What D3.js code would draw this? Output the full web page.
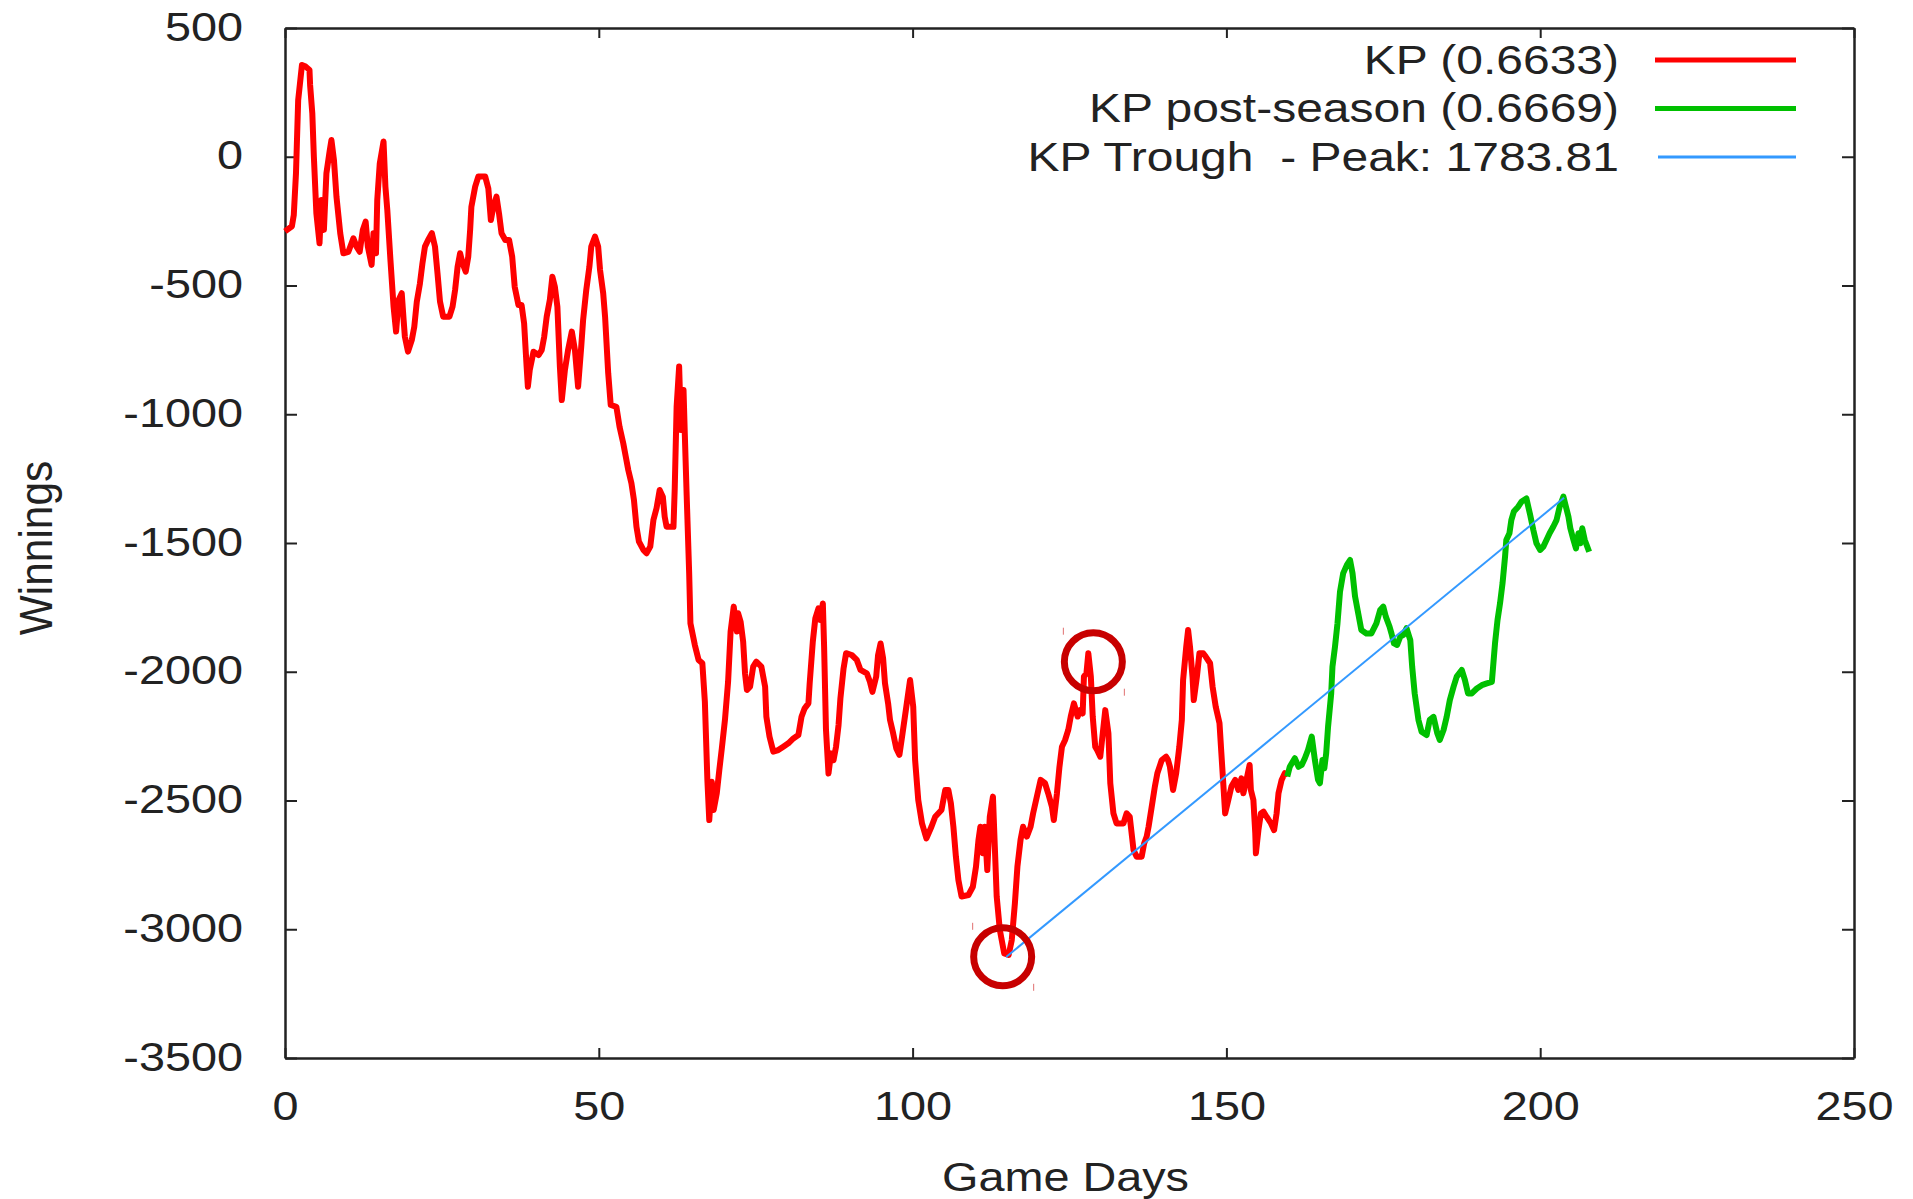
<!DOCTYPE html>
<html>
<head>
<meta charset="utf-8">
<script src="https://d3js.org/d3.v7.min.js"></script>
<style>
  body { margin: 0; background: #fff; }
  text { font-family: "Liberation Sans", Arial, sans-serif; fill: #222; white-space: pre; }
</style>
</head>
<body>
<svg id="vis"></svg>
<script>
  // regular season, [game day, winnings]
  var kpSeason = [
    [0,-290],[1.1,-270],[1.4,-226],[1.75,-64],[2.1,220],[2.7,356],[3.3,350],[3.9,337],[4,279],[4.35,169],
    [4.6,0],[5,-220],[5.5,-336],[5.8,-168],[6.2,-284],[6.6,-64],[7.1,20],[7.4,65],[7.8,-13],[8.2,-155],
    [8.8,-297],[9.3,-375],[10.1,-369],[10.9,-317],[11.4,-349],[11.9,-369],[12.4,-284],[12.85,-252],[13.2,-349],[13.8,-420],
    [14.1,-297],[14.5,-375],[14.7,-168],[15.1,-26],[15.7,59],[16,-116],[16.3,-207],[16.8,-401],[17.3,-582],[17.7,-679],
    [18.1,-556],[18.6,-530],[18.9,-634],[19.1,-699],[19.6,-757],[20.2,-712],[20.6,-660],[21,-563],[21.5,-492],[21.9,-414],
    [22.3,-349],[22.8,-323],[23.4,-297],[23.9,-349],[24.3,-453],[24.7,-563],[25.2,-621],[26.2,-621],[26.7,-582],[27.1,-518],
    [27.5,-427],[27.9,-375],[28.3,-414],[28.8,-446],[29.2,-388],[29.5,-284],[29.7,-194],[30.3,-116],[30.8,-77],[31.9,-77],
    [32.4,-123],[32.8,-246],[33.2,-194],[33.7,-155],[34.1,-220],[34.5,-297],[35.1,-323],[35.7,-323],[36.2,-388],[36.6,-505],
    [37.2,-576],[37.7,-576],[38.1,-647],[38.5,-815],[38.7,-893],[39,-828],[39.6,-757],[40.4,-770],[40.9,-751],[41.3,-699],
    [41.7,-621],[42.2,-556],[42.6,-466],[43,-505],[43.4,-582],[43.8,-815],[44.1,-945],[44.6,-828],[45.1,-751],[45.7,-679],
    [46.2,-751],[46.7,-893],[47.2,-738],[47.5,-634],[48,-518],[48.5,-427],[48.8,-349],[49.4,-310],[49.9,-349],[50.2,-440],
    [50.7,-530],[51,-621],[51.5,-841],[51.9,-964],[52.8,-971],[53.3,-1048],[53.9,-1113],[54.3,-1165],[54.7,-1217],[55.2,-1268],
    [55.6,-1333],[56,-1437],[56.4,-1495],[57.1,-1527],[57.6,-1540],[58.2,-1514],[58.7,-1411],[59.2,-1365],[59.7,-1294],[60.2,-1320],
    [60.5,-1398],[60.8,-1437],[61.9,-1437],[62.1,-1288],[62.4,-971],[62.8,-815],[63.1,-1061],[63.5,-906],[63.7,-1074],[64,-1314],
    [64.4,-1618],[64.6,-1812],[65.3,-1896],[65.9,-1954],[66.5,-1967],[66.9,-2116],[67.3,-2420],[67.6,-2576],[68,-2427],[68.3,-2537],
    [68.8,-2472],[69.2,-2382],[69.6,-2298],[70.1,-2187],[70.6,-2039],[71,-1844],[71.5,-1747],[72,-1844],[72.2,-1773],[72.6,-1806],
    [73,-1883],[73.3,-2006],[73.6,-2071],[74.1,-2058],[74.6,-1980],[75.1,-1961],[75.9,-1980],[76.5,-2058],[76.7,-2175],[77.2,-2252],
    [77.8,-2310],[78.6,-2304],[79.4,-2291],[80.2,-2278],[81,-2259],[81.8,-2246],[82.3,-2175],[82.8,-2142],[83.4,-2123],[83.6,-2045],
    [84.1,-1883],[84.5,-1793],[85,-1754],[85.3,-1799],[85.7,-1735],[85.9,-1903],[86.2,-2226],[86.6,-2395],[87,-2317],[87.4,-2343],
    [87.8,-2291],[88.2,-2207],[88.5,-2103],[89,-1987],[89.4,-1928],[90.3,-1935],[91.1,-1954],[91.7,-1993],[92.7,-2006],[93.2,-2039],
    [93.6,-2078],[94.2,-2019],[94.5,-1935],[94.9,-1890],[95.3,-1948],[95.6,-2045],[96.1,-2123],[96.4,-2187],[96.9,-2239],[97.4,-2298],
    [97.9,-2323],[98.4,-2239],[99,-2136],[99.6,-2032],[100.1,-2136],[100.4,-2343],[100.9,-2498],[101.5,-2589],[102.2,-2647],[103,-2602],
    [103.6,-2563],[104.6,-2537],[105.2,-2459],[105.7,-2459],[106.1,-2511],[106.5,-2602],[106.9,-2718],[107.3,-2809],[107.8,-2873],[108.9,-2867],
    [109.6,-2835],[110.1,-2757],[110.5,-2653],[110.8,-2602],[111.2,-2705],[111.5,-2602],[111.9,-2770],[112.3,-2563],[112.8,-2485],[113.1,-2679],
    [113.4,-2873],[113.9,-3003],[114.6,-3094],[115.3,-3100],[115.8,-3042],[116.3,-2899],[116.7,-2757],[117.2,-2653],[117.6,-2602],[118.2,-2640],
    [118.8,-2602],[119.2,-2550],[119.8,-2485],[120.4,-2420],[121.1,-2433],[121.6,-2472],[122.2,-2524],[122.5,-2576],[123,-2472],[123.4,-2369],
    [123.8,-2291],[124.3,-2265],[124.8,-2226],[125.2,-2174],[125.7,-2123],[126.3,-2174],[126.7,-2149],[127.1,-2162],[127.3,-2019],[127.7,-2006],
    [128,-1928],[128.4,-2019],[128.7,-2174],[129.1,-2291],[129.4,-2304],[129.9,-2330],[130.3,-2239],[130.7,-2149],[131.2,-2239],[131.5,-2433],
    [132,-2550],[132.5,-2589],[133.6,-2589],[134.1,-2550],[134.6,-2563],[135.2,-2692],[135.7,-2718],[136.5,-2718],[136.9,-2666],[137.3,-2640],
    [137.6,-2602],[138.1,-2524],[138.6,-2446],[139,-2394],[139.7,-2343],[140.4,-2330],[140.7,-2343],[141,-2369],[141.5,-2459],[142,-2394],
    [142.5,-2291],[142.9,-2187],[143.1,-2032],[143.6,-1903],[143.9,-1838],[144.2,-1903],[144.6,-2019],[144.8,-2110],[145.3,-2019],[145.7,-1928],
    [146.3,-1928],[146.7,-1941],[147.4,-1967],[147.8,-2058],[148.3,-2136],[148.9,-2200],[149.2,-2317],[149.5,-2433],[149.8,-2550],[150.3,-2498],
    [150.8,-2446],[151.4,-2420],[151.9,-2459],[152.4,-2414],[152.7,-2472],[153.2,-2420],[153.7,-2362],[153.9,-2459],[154.3,-2498],[154.6,-2627],
    [154.7,-2705],[155.1,-2615],[155.5,-2550],[155.9,-2543],[156.4,-2563],[157.1,-2589],[157.6,-2615],[158,-2550],[158.3,-2472],[158.8,-2420],
    [159.3,-2394],[159.7,-2407]
  ];

  // post-season, [game day, winnings]
  var kpPost = [
    [159.7,-2407],[160.1,-2369],[160.9,-2336],[161.5,-2369],[162,-2362],[162.5,-2336],[163,-2304],[163.6,-2252],[164.1,-2343],[164.6,-2420],
    [164.9,-2433],[165.3,-2343],[165.6,-2375],[165.9,-2317],[166.2,-2213],[166.7,-2084],[166.9,-1980],[167.3,-1903],[167.7,-1812],[168.1,-1689],
    [168.6,-1618],[169.2,-1585],[169.7,-1566],[170.1,-1618],[170.5,-1708],[171,-1773],[171.5,-1838],[172.3,-1851],[173.1,-1851],[173.9,-1812],
    [174.5,-1760],[175,-1747],[175.4,-1786],[176,-1825],[176.3,-1851],[176.7,-1890],[177.2,-1896],[177.7,-1864],[178.2,-1857],[178.7,-1831],
    [179.3,-1877],[179.6,-1980],[180,-2084],[180.6,-2187],[181.1,-2233],[181.9,-2246],[182.4,-2187],[183,-2175],[183.6,-2239],[184,-2265],
    [184.6,-2226],[185.1,-2175],[185.6,-2110],[186.2,-2058],[186.7,-2019],[187.5,-1993],[188,-2032],[188.5,-2084],[189.1,-2084],[189.9,-2065],
    [190.7,-2052],[191.5,-2045],[192.3,-2039],[192.5,-1980],[192.8,-1890],[193.2,-1799],[193.6,-1734],[194,-1656],[194.4,-1553],[194.6,-1488],
    [195.1,-1462],[195.4,-1411],[195.8,-1378],[196.5,-1359],[197,-1340],[197.8,-1327],[198.4,-1391],[198.9,-1449],[199.4,-1501],[200,-1527],
    [200.5,-1514],[201,-1488],[201.5,-1462],[202.1,-1436],[202.6,-1411],[203.1,-1359],[203.7,-1320],[204.1,-1359],[204.5,-1398],[204.8,-1443],
    [205.3,-1488],[205.7,-1521],[206.1,-1462],[206.4,-1501],[206.7,-1443],[207.1,-1488],[207.4,-1508],[207.8,-1534]
  ];

  // trough -> peak segment (difference 1783.81)
  var troughPeak = [[114.9, -3108], [203.8, -1324.19]];
  // annotated points (red rings)
  var circled = [[128.8, -1961], [114.35, -3107]];

  var xTicks = [0, 50, 100, 150, 200, 250];
  var yTicks = [500, 0, -500, -1000, -1500, -2000, -2500, -3000, -3500];

  var legendLabels = ['KP (0.6633)', 'KP post-season (0.6669)', 'KP Trough  - Peak: 1783.81'];
  var legendColors = ['#ff0000', '#00c000', '#3399ff'];
  var legendWidths = [5, 5, 3];

  var width = 1913;
  var height = 1199;
  var sx = 1.17; // the glyphs in the picture are a little wide

  var svg = d3.select('#vis')
      .attr('width', width)
      .attr('height', height);

  var x = d3.scaleLinear()
      .domain([0, 250])
      .range([285, 1854]);

  var y = d3.scaleLinear()
      .domain([-3500, 500])
      .range([1058, 28]);

  // Axes (ticks point inward, mirrored on top/right)
  var gl = svg.append('g')
      .attr('transform', 'translate(' + x(0) + ',0)')
      .call(d3.axisLeft(y).tickValues(yTicks).tickFormat(function(d) { return String(d); })
            .tickSizeInner(-12).tickSizeOuter(0).tickPadding(42));
  gl.selectAll('text')
      .attr('x', -42 / sx)
      .attr('dy', '0.3em')
      .attr('transform', 'scale(' + sx + ',1)');

  var gr = svg.append('g')
      .attr('transform', 'translate(' + x(250) + ',0)')
      .call(d3.axisRight(y).tickValues(yTicks).tickFormat('').tickSizeInner(-12).tickSizeOuter(0));

  var gb = svg.append('g')
      .attr('transform', 'translate(0,' + y(-3500) + ')')
      .call(d3.axisBottom(x).tickValues(xTicks).tickFormat(function(d) { return String(d); })
            .tickSizeInner(-10).tickSizeOuter(0).tickPadding(34));
  gb.selectAll('text')
      .attr('transform', 'scale(' + sx + ',1)');

  var gt = svg.append('g')
      .attr('transform', 'translate(0,' + y(500) + ')')
      .call(d3.axisTop(x).tickValues(xTicks).tickFormat('').tickSizeInner(-10).tickSizeOuter(0));

  svg.selectAll('g')
      .attr('font-size', 40)
      .attr('font-family', null)
      .attr('color', '#222');
  svg.selectAll('.domain').attr('stroke-width', 2.5);
  svg.selectAll('.tick line').attr('stroke-width', 2);

  // Axis titles
  svg.append('text')
      .attr('transform', 'translate(' + ((x(0) + x(250)) / 2 - 4) + ',1191) scale(' + sx + ',1)')
      .attr('text-anchor', 'middle')
      .attr('font-size', 40)
      .text('Game Days');

  svg.append('text')
      .attr('transform', 'translate(52,' + ((y(500) + y(-3500)) / 2 + 5) + ') rotate(-90) scale(1.06,' + sx + ')')
      .attr('text-anchor', 'middle')
      .attr('font-size', 40)
      .text('Winnings');

  // Lines
  var line = d3.line()
      .x(function(d) { return x(d[0]); })
      .y(function(d) { return y(d[1]); });

  svg.append('path')
      .datum(kpSeason)
      .attr('d', line)
      .attr('fill', 'none')
      .attr('stroke', legendColors[0])
      .attr('stroke-width', 6)
      .attr('stroke-linejoin', 'round');

  svg.append('path')
      .datum(kpPost)
      .attr('d', line)
      .attr('fill', 'none')
      .attr('stroke', legendColors[1])
      .attr('stroke-width', 6)
      .attr('stroke-linejoin', 'round');

  svg.append('path')
      .datum(troughPeak)
      .attr('d', line)
      .attr('fill', 'none')
      .attr('stroke', legendColors[2])
      .attr('stroke-width', 2);

  // Red rings around trough and peak
  var rings = svg.selectAll('g.ring')
      .data(circled)
      .enter().append('g')
      .attr('class', 'ring')
      .attr('transform', function(d) { return 'translate(' + x(d[0]) + ',' + y(d[1]) + ')'; });
  rings.append('circle')
      .attr('r', 29)
      .attr('fill', 'none')
      .attr('stroke', '#c80000')
      .attr('stroke-width', 7);
  rings.append('line')
      .attr('x1', -30).attr('x2', -30).attr('y1', -34).attr('y2', -27)
      .attr('stroke', '#e07070').attr('stroke-width', 1);
  rings.append('line')
      .attr('x1', 31).attr('x2', 31).attr('y1', 27).attr('y2', 34)
      .attr('stroke', '#e07070').attr('stroke-width', 1);

  // Legend
  var legendY = [60, 108.5, 157];
  var leg = svg.selectAll('g.legend')
      .data(legendLabels)
      .enter().append('g')
      .attr('class', 'legend');
  leg.append('text')
      .attr('transform', function(d, i) { return 'translate(1619,' + (legendY[i] + 13.5) + ') scale(1.2,1)'; })
      .attr('text-anchor', 'end')
      .attr('font-size', 40)
      .text(function(d) { return d; });
  leg.append('line')
      .attr('x1', function(d, i) { return i == 2 ? 1658 : 1655; })
      .attr('x2', 1796)
      .attr('y1', function(d, i) { return legendY[i]; })
      .attr('y2', function(d, i) { return legendY[i]; })
      .attr('stroke', function(d, i) { return legendColors[i]; })
      .attr('stroke-width', function(d, i) { return legendWidths[i]; });
</script>
</body>
</html>
